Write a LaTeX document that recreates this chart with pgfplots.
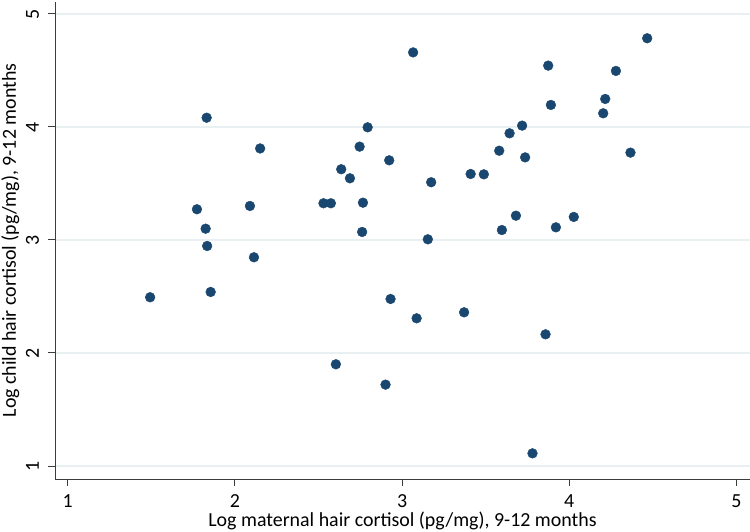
\documentclass[border=0pt]{standalone}
\usepackage{fontspec}
\setmainfont{Carlito}
\usepackage{pgfplots}
\usepackage{pgfplotstable}
\pgfplotsset{compat=1.18}
\usetikzlibrary{calc}
\definecolor{stnavy}{RGB}{26,71,111}
\definecolor{gridc}{RGB}{232,240,242}
\definecolor{axisc}{RGB}{60,60,60}

% maternal (x) vs child (y) log hair cortisol
\pgfplotstableread{
x y
1.493 2.493
1.773 3.272
1.831 4.082
1.825 3.100
1.834 2.947
1.855 2.540
2.090 3.301
2.114 2.847
2.151 3.810
2.530 3.325
2.574 3.325
2.604 1.900
2.636 3.626
2.688 3.546
2.746 3.826
2.766 3.330
2.761 3.071
2.794 3.997
2.923 3.705
2.931 2.478
2.901 1.720
3.066 4.660
3.087 2.307
3.154 3.006
3.174 3.511
3.371 2.360
3.410 3.584
3.489 3.581
3.581 3.790
3.597 3.088
3.643 3.944
3.681 3.215
3.718 4.012
3.736 3.731
3.780 1.112
3.858 2.165
3.874 4.543
3.890 4.195
3.920 3.112
4.027 3.204
4.203 4.121
4.215 4.248
4.279 4.496
4.366 3.773
4.466 4.785
}\cortisol

\begin{document}
\begin{tikzpicture}
\begin{axis}[
  name=ax,
  scale only axis,
  width=695bp, height=477bp,
  xmin=0.924, xmax=5.081,
  ymin=0.885, ymax=5.106,
  axis x line*=bottom, axis y line*=left,
  axis line style={draw=axisc, line width=1bp},
  xtick={1,2,3,4,5}, ytick={1,2,3,4,5},
  tick align=outside,
  major tick length=7bp,
  tick style={draw=axisc, line width=1bp},
  ymajorgrids,
  grid style={draw=gridc, line width=1.3bp},
  font=\fontsize{20}{24}\selectfont,
  /pgf/number format/assume math mode=true,
  xticklabel style={anchor=base},
  xticklabel shift=21bp,
  yticklabel style={rotate=90, anchor=base},
  yticklabel shift=9bp,
  xlabel={Log maternal hair cortisol (pg/mg), 9-12 months},
  ylabel={Log child hair cortisol (pg/mg), 9-12 months},
  xlabel style={at={(axis description cs:0.5,0)}, anchor=base, yshift=-47bp},
  ylabel style={at={(axis description cs:0,0.5)}, anchor=base, yshift=39bp},
]
\addplot[only marks, mark=*, mark size=4.9bp,
  mark options={fill=stnavy, draw=stnavy, line width=0.4bp}]
  table[x=x, y=y] {\cortisol};
\end{axis}
\pgfresetboundingbox
\path ($(ax.south west)+(-55bp,-53bp)$) rectangle ($(ax.north east)+(0bp,2bp)$);
\end{tikzpicture}
\end{document}
